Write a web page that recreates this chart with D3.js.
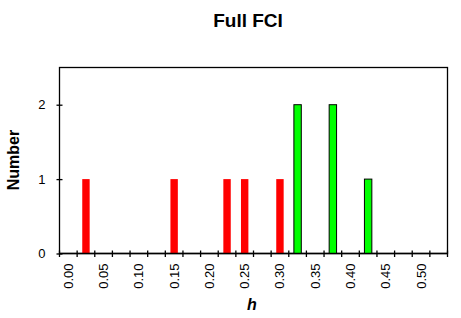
<!DOCTYPE html>
<html>
<head>
<meta charset="utf-8">
<script src="https://cdn.jsdelivr.net/npm/d3@7"></script>
<style>
  body { margin: 0; background: #fff; }
  text { font-family: "Liberation Sans", Arial, sans-serif; }
</style>
</head>
<body>
<svg id="chart" width="461" height="318"></svg>
<script>
// bins of width 0.025, from 0.000 to 0.525
let bins = ["0.000","0.025","0.050","0.075","0.100","0.125","0.150","0.175","0.200","0.225","0.250",
            "0.275","0.300","0.325","0.350","0.375","0.400","0.425","0.450","0.475","0.500","0.525"]
let redValues   = [0,1,0,0,0,0,1,0,0,1,1,0,1,0,0,0,0,0,0,0,0,0]
let greenValues = [0,0,0,0,0,0,0,0,0,0,0,0,0,2,0,2,0,1,0,0,0,0]
let xLabels = ["0.00","0.05","0.10","0.15","0.20","0.25","0.30","0.35","0.40","0.45","0.50"]
let yTicks = [0, 1, 2]

let svg = d3.select("#chart")
let margin = { left: 59.5, top: 67.5, right: 14, bottom: 65 }
let width = 461, height = 318
let plotW = 388, plotH = 186

let xScale = d3.scaleBand()
    .domain(bins)
    .range([margin.left, margin.left + plotW])
    .padding(0)

let yScale = d3.scaleLinear()
    .domain([0, 2.5])
    .range([margin.top + plotH, margin.top])

let barW = xScale.bandwidth() * 0.42

// 标题
svg.append("text")
    .attr("x", 248)
    .attr("y", 27)
    .attr("text-anchor", "middle")
    .attr("font-size", "19px")
    .attr("font-weight", "bold")
    .text("Full FCI")

// plot frame
svg.append("rect")
    .attr("x", margin.left)
    .attr("y", margin.top)
    .attr("width", plotW)
    .attr("height", plotH)
    .attr("fill", "none")
    .attr("stroke", "#000")
    .attr("stroke-width", 1.3)

// red bars
svg.selectAll(".red")
    .data(bins.map((b, i) => ({ key: b, value: redValues[i] })).filter(d => d.value > 0))
    .enter()
    .append("rect")
    .attr("class", "red")
    .attr("x", d => xScale(d.key) + xScale.bandwidth() / 2 - barW / 2)
    .attr("y", d => yScale(d.value))
    .attr("width", barW)
    .attr("height", d => yScale(0) - yScale(d.value))
    .attr("fill", "#ff0000")

// green bars
svg.selectAll(".green")
    .data(bins.map((b, i) => ({ key: b, value: greenValues[i] })).filter(d => d.value > 0))
    .enter()
    .append("rect")
    .attr("class", "green")
    .attr("x", d => xScale(d.key) + xScale.bandwidth() / 2 - barW / 2)
    .attr("y", d => yScale(d.value))
    .attr("width", barW)
    .attr("height", d => yScale(0) - yScale(d.value))
    .attr("fill", "#00ff00")
    .attr("stroke", "#000")
    .attr("stroke-width", 1)

// x axis: ticks at band edges crossing the axis line
let xAxis = svg.append("g")
let edges = bins.map(b => xScale(b)).concat([margin.left + plotW])
xAxis.selectAll("line.tick")
    .data(edges)
    .enter()
    .append("line")
    .attr("class", "tick")
    .attr("x1", d => d).attr("x2", d => d)
    .attr("y1", yScale(0) - 3).attr("y2", yScale(0) + 3.5)
    .attr("stroke", "#000")
    .attr("stroke-width", 1.3)
xAxis.append("line")
    .attr("x1", margin.left).attr("x2", margin.left + plotW)
    .attr("y1", yScale(0)).attr("y2", yScale(0))
    .attr("stroke", "#000")
    .attr("stroke-width", 1.3)

xAxis.selectAll("text")
    .data(xLabels)
    .enter()
    .append("text")
    .attr("transform", (d, i) => {
        let cx = xScale(bins[i * 2]) + xScale.bandwidth() / 2 + 4.5
        return "translate(" + cx + "," + (yScale(0) + 10) + ") rotate(-90)"
    })
    .attr("text-anchor", "end")
    .attr("font-size", "13px")
    .text(d => d)

// y axis
let yAxis = svg.append("g")
    .attr("transform", "translate(" + margin.left + ",0)")
    .call(d3.axisLeft(yScale).tickValues(yTicks).tickSize(3).tickPadding(11).tickFormat(d3.format("d")))
yAxis.select(".domain").remove()
yAxis.selectAll(".tick line")
    .attr("x2", 3)
    .attr("x1", -3)
    .attr("stroke-width", 1.3)
yAxis.selectAll("text")
    .attr("font-size", "13px")
    .attr("font-family", "Liberation Sans, Arial, sans-serif")
    .attr("fill", "#000")

// axis titles
svg.append("text")
    .attr("transform", "translate(19,160) rotate(-90)")
    .attr("text-anchor", "middle")
    .attr("font-size", "16px")
    .attr("font-weight", "bold")
    .text("Number")

svg.append("text")
    .attr("x", 252)
    .attr("y", 310)
    .attr("text-anchor", "middle")
    .attr("font-size", "16px")
    .attr("font-weight", "bold")
    .attr("font-style", "italic")
    .text("h")
</script>
</body>
</html>
